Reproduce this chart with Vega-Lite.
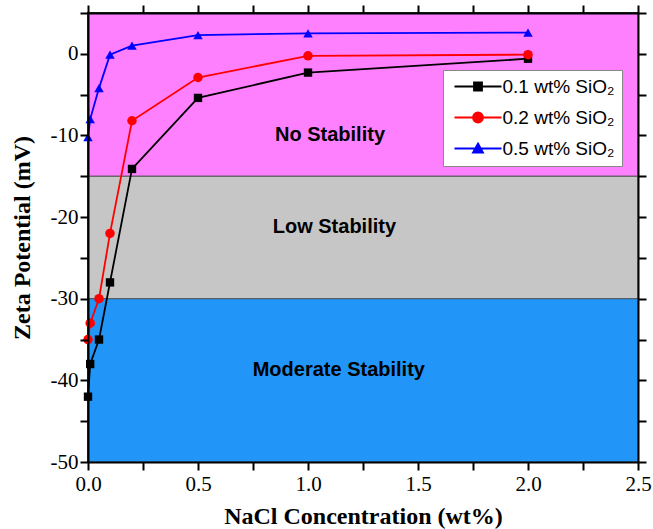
{
  "$schema": "https://vega.github.io/schema/vega-lite/v6.json",
  "width": 550,
  "height": 449,
  "autosize": "none",
  "padding": {"left": 88, "top": 13, "right": 15, "bottom": 67},
  "background": "white",
  "config": {
    "view": {"stroke": "black", "strokeWidth": 2},
    "axis": {
      "grid": false,
      "domainColor": "black",
      "domainWidth": 2,
      "tickColor": "black",
      "tickWidth": 2,
      "labelFont": "Liberation Serif",
      "labelFontSize": 21,
      "labelColor": "black",
      "titleFont": "Liberation Serif",
      "titleFontSize": 24,
      "titleFontWeight": "bold",
      "titleColor": "black"
    }
  },
  "datasets": {
    "bands": [
      {"zone": "No Stability", "lo": -15, "hi": 5},
      {"zone": "Low Stability", "lo": -30, "hi": -15},
      {"zone": "Moderate Stability", "lo": -50, "hi": -30}
    ],
    "labels": [
      {"text": "No Stability", "x": 1.1, "y": -10},
      {"text": "Low Stability", "x": 1.12, "y": -21.2},
      {"text": "Moderate Stability", "x": 1.14, "y": -38.7}
    ],
    "zeta": [
      {"series": "0.1 wt% SiO₂", "nacl": 0, "zeta": -42},
      {"series": "0.1 wt% SiO₂", "nacl": 0.01, "zeta": -38},
      {"series": "0.1 wt% SiO₂", "nacl": 0.05, "zeta": -35},
      {"series": "0.1 wt% SiO₂", "nacl": 0.1, "zeta": -28},
      {"series": "0.1 wt% SiO₂", "nacl": 0.2, "zeta": -14.1},
      {"series": "0.1 wt% SiO₂", "nacl": 0.5, "zeta": -5.4},
      {"series": "0.1 wt% SiO₂", "nacl": 1.0, "zeta": -2.3},
      {"series": "0.1 wt% SiO₂", "nacl": 2.0, "zeta": -0.6},
      {"series": "0.2 wt% SiO₂", "nacl": 0, "zeta": -35},
      {"series": "0.2 wt% SiO₂", "nacl": 0.01, "zeta": -33},
      {"series": "0.2 wt% SiO₂", "nacl": 0.05, "zeta": -30},
      {"series": "0.2 wt% SiO₂", "nacl": 0.1, "zeta": -22},
      {"series": "0.2 wt% SiO₂", "nacl": 0.2, "zeta": -8.2},
      {"series": "0.2 wt% SiO₂", "nacl": 0.5, "zeta": -2.9},
      {"series": "0.2 wt% SiO₂", "nacl": 1.0, "zeta": -0.25},
      {"series": "0.2 wt% SiO₂", "nacl": 2.0, "zeta": -0.1},
      {"series": "0.5 wt% SiO₂", "nacl": 0, "zeta": -10.2},
      {"series": "0.5 wt% SiO₂", "nacl": 0.01, "zeta": -8},
      {"series": "0.5 wt% SiO₂", "nacl": 0.05, "zeta": -4.2},
      {"series": "0.5 wt% SiO₂", "nacl": 0.1, "zeta": -0.1},
      {"series": "0.5 wt% SiO₂", "nacl": 0.2, "zeta": 1.0},
      {"series": "0.5 wt% SiO₂", "nacl": 0.5, "zeta": 2.3},
      {"series": "0.5 wt% SiO₂", "nacl": 1.0, "zeta": 2.5},
      {"series": "0.5 wt% SiO₂", "nacl": 2.0, "zeta": 2.6}
    ]
  },
  "layer": [
    {
      "data": {"name": "bands"},
      "mark": {"type": "rect", "stroke": "#555555", "strokeWidth": 1},
      "encoding": {
        "x": {
          "datum": 0,
          "type": "quantitative",
          "scale": {"domain": [0, 2.5], "nice": false, "zero": false},
          "axis": {
            "orient": "bottom",
            "zindex": 2,
            "ticks": true,
            "tickSize": 8,
            "values": [0, 0.25, 0.5, 0.75, 1, 1.25, 1.5, 1.75, 2, 2.25, 2.5],
            "labelExpr": "datum.value % 0.5 === 0 ? format(datum.value, '.1f') : ''",
            "labelPadding": 3,
            "labelOverlap": false,
            "labelFlush": false,
            "title": "NaCl Concentration (wt%)",
            "titlePadding": 10,
            "encode": {"ticks": {"update": {"y2": {"signal": "datum.value % 0.5 === 0 ? -8 : -4"}}}}
          }
        },
        "x2": {"datum": 2.5},
        "y": {
          "field": "lo",
          "type": "quantitative",
          "scale": {"domain": [-50, 5], "nice": false, "zero": false},
          "axis": {
            "orient": "left",
            "zindex": 2,
            "ticks": true,
            "tickSize": 8,
            "values": [-50, -45, -40, -35, -30, -25, -20, -15, -10, -5, 0, 5],
            "labelExpr": "datum.value % 10 === 0 ? '' + datum.value : ''",
            "labelPadding": 2,
            "labelOverlap": false,
            "labelFlush": false,
            "title": "Zeta Potential (mV)",
            "titlePadding": 16,
            "encode": {"ticks": {"update": {"x2": {"signal": "datum.value % 10 === 0 ? 8 : 4"}}}}
          }
        },
        "y2": {"field": "hi"},
        "fill": {
          "field": "zone",
          "type": "nominal",
          "scale": {"domain": ["No Stability", "Low Stability", "Moderate Stability"], "range": ["#FF80FF", "#C6C6C6", "#2196F8"]},
          "legend": null
        }
      }
    },
    {
      "data": {"name": "labels"},
      "mark": {"type": "text", "font": "Liberation Sans", "fontSize": 20, "fontWeight": "bold", "color": "black"},
      "encoding": {
        "x": {"field": "x", "type": "quantitative", "axis": null},
        "y": {"field": "y", "type": "quantitative", "axis": null},
        "text": {"field": "text"}
      }
    },
    {
      "data": {"name": "zeta"},
      "mark": {"type": "line", "strokeWidth": 1.8},
      "encoding": {
        "x": {
          "field": "nacl",
          "type": "quantitative",
          "axis": {
            "orient": "top",
            "zindex": 2,
            "ticks": true,
            "tickSize": 8,
            "values": [0, 0.25, 0.5, 0.75, 1, 1.25, 1.5, 1.75, 2, 2.25, 2.5],
            "labels": false,
            "title": null,
            "encode": {"ticks": {"update": {"y2": {"signal": "datum.value % 0.5 === 0 ? 8 : 4"}}}}
          }
        },
        "y": {
          "field": "zeta",
          "type": "quantitative",
          "axis": {
            "orient": "right",
            "zindex": 2,
            "ticks": true,
            "tickSize": 8,
            "values": [-50, -45, -40, -35, -30, -25, -20, -15, -10, -5, 0, 5],
            "labels": false,
            "title": null,
            "encode": {"ticks": {"update": {"x2": {"signal": "datum.value % 10 === 0 ? -8 : -4"}}}}
          }
        },
        "color": {
          "field": "series",
          "type": "nominal",
          "scale": {"domain": ["0.1 wt% SiO₂", "0.2 wt% SiO₂", "0.5 wt% SiO₂"], "range": ["#000000", "#FF0000", "#0000FF"]},
          "legend": {
            "orient": "none",
            "legendX": 355,
            "legendY": 57,
            "title": null,
            "fillColor": "white",
            "strokeColor": "#888888",
            "padding": 7,
            "labelFont": "Liberation Sans",
            "labelFontSize": 19,
            "labelColor": "black",
            "labelLimit": 300,
            "symbolSize": 100,
            "symbolOffset": 18.5,
            "labelOffset": 15,
            "rowPadding": 11,
            "symbolStrokeWidth": 1.8,
            "encode": {
              "symbols": {
                "update": {
                  "shape": {"signal": "datum.value === '0.1 wt% SiO₂' ? 'M-4.7,0H4.7M-0.8,-0.8H0.8V0.8H-0.8Z' : datum.value === '0.2 wt% SiO₂' ? 'M-4.7,0H4.7M1,0A1,1 0 1 1 -1,0A1,1 0 1 1 1,0Z' : 'M-4.7,0H4.7M0,-1L1,0.8H-1Z'"},
                  "fill": {"scale": "color", "field": "value"},
                  "stroke": {"scale": "color", "field": "value"}
                }
              }
            }
          }
        }
      }
    },
    {
      "data": {"name": "zeta"},
      "transform": [{"filter": "datum.series === '0.1 wt% SiO₂'"}],
      "mark": {"type": "point", "filled": true, "opacity": 1, "shape": "square", "size": 70, "color": "#000000"},
      "encoding": {
        "x": {"field": "nacl", "type": "quantitative", "axis": null},
        "y": {"field": "zeta", "type": "quantitative", "axis": null}
      }
    },
    {
      "data": {"name": "zeta"},
      "transform": [{"filter": "datum.series === '0.2 wt% SiO₂'"}],
      "mark": {"type": "point", "filled": true, "opacity": 1, "shape": "circle", "size": 90, "color": "#FF0000"},
      "encoding": {
        "x": {"field": "nacl", "type": "quantitative", "axis": null},
        "y": {"field": "zeta", "type": "quantitative", "axis": null}
      }
    },
    {
      "data": {"name": "zeta"},
      "transform": [{"filter": "datum.series === '0.5 wt% SiO₂'"}],
      "mark": {"type": "point", "filled": true, "opacity": 1, "shape": "triangle-up", "size": 90, "color": "#0000FF"},
      "encoding": {
        "x": {"field": "nacl", "type": "quantitative", "axis": null},
        "y": {"field": "zeta", "type": "quantitative", "axis": null}
      }
    }
  ]
}
